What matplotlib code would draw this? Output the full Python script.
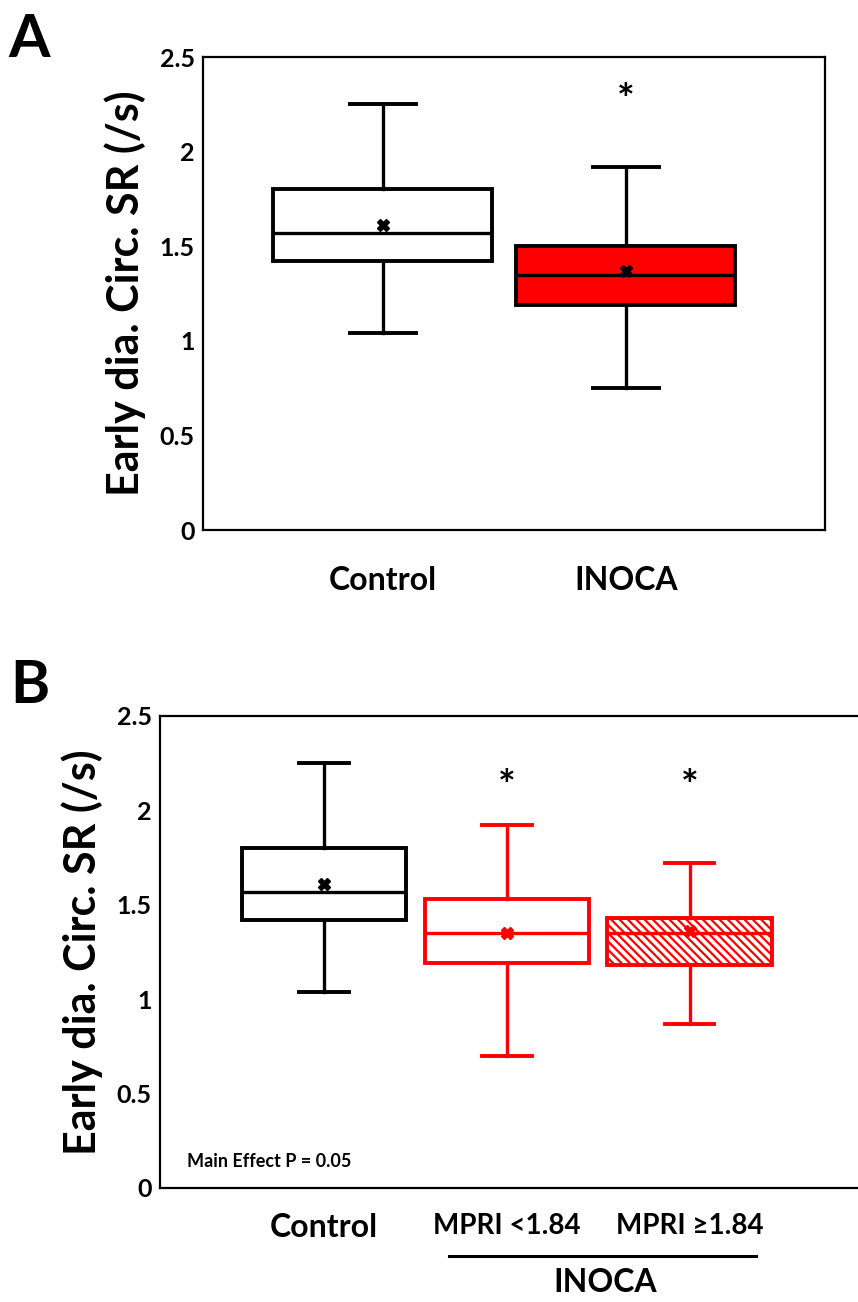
import numpy as np
import matplotlib
matplotlib.use("Agg")
import matplotlib.pyplot as plt

plt.rcParams['font.family'] = ['Lato', 'DejaVu Sans']
plt.rcParams['font.weight'] = 'bold'
plt.rcParams['hatch.linewidth'] = 1.6

# box statistics: whislo, q1, median, mean, q3, whishi
control = [1.04, 1.42, 1.57, 1.61, 1.80, 2.25]
inoca = [0.75, 1.19, 1.35, 1.37, 1.50, 1.92]
mpri_low = [0.70, 1.19, 1.35, 1.35, 1.53, 1.92]
mpri_high = [0.87, 1.18, 1.35, 1.36, 1.43, 1.72]

labels_a = ['Control', 'INOCA']
labels_b = ['Control', 'MPRI <1.84', 'MPRI \u22651.84']
star_a = 2.26
star_b = 2.12
yticks = [0, 0.5, 1, 1.5, 2, 2.5]
ytick_labels = ['0', '0.5', '1', '1.5', '2', '2.5']
red = '#ff0000'


def to_stats(v):
    return dict(whislo=v[0], q1=v[1], med=v[2], mean=v[3], q3=v[4], whishi=v[5], fliers=[])


def draw_box(ax, vals, pos, edge, face, hatch=None, width=0.9):
    b = ax.bxp([to_stats(vals)], positions=[pos], widths=width, capwidths=0.27,
               showmeans=True, patch_artist=True,
               boxprops=dict(facecolor=face, edgecolor=edge, linewidth=2.8),
               medianprops=dict(color=edge, linewidth=2.4),
               whiskerprops=dict(color=edge, linewidth=2.4),
               capprops=dict(color=edge, linewidth=2.8),
               meanprops=dict(marker='X', markerfacecolor=edge,
                              markeredgecolor=edge, markersize=8))
    if hatch:
        b['boxes'][0].set_hatch(hatch)
    return b


def style_axes(ax):
    ax.set_ylim(0, 2.5)
    ax.set_yticks(yticks)
    ax.set_yticklabels(ytick_labels, fontsize=18, fontweight='bold')
    ax.tick_params(axis='y', length=0, pad=6)
    ax.tick_params(axis='x', length=0)
    for s in ax.spines.values():
        s.set_linewidth(1.6)
    ax.set_ylabel('Early dia. Circ. SR (/s)', fontsize=31, fontweight='bold', labelpad=10)


fig = plt.figure(figsize=(8.58, 13.02), dpi=100)

# Panel A
axA = fig.add_axes([0.2366, 0.5929, 0.7249, 0.3633])
draw_box(axA, control, 1, 'black', 'white')
draw_box(axA, inoca, 2, 'black', red)
axA.set_xlim(0.26, 2.82)
style_axes(axA)
axA.set_xticks([1, 2])
axA.set_xticklabels(labels_a, fontsize=23, fontweight='bold')
axA.tick_params(axis='x', pad=26)
axA.text(2, star_a, '*', ha='center', va='center', fontsize=30, fontweight='bold')
fig.text(0.010, 0.969, 'A', fontsize=43, fontweight='bold', va='center')

# Panel B
axB = fig.add_axes([0.1865, 0.0876, 0.8135, 0.3625])
draw_box(axB, control, 1, 'black', 'white')
draw_box(axB, mpri_low, 2, red, 'white')
draw_box(axB, mpri_high, 3, red, 'white', hatch='\\\\\\\\')
axB.set_xlim(0.104, 3.92)
style_axes(axB)
axB.spines['right'].set_visible(False)
axB.set_xticks([1, 2, 3])
axB.set_xticklabels(labels_b, fontsize=20, fontweight='bold')
axB.get_xticklabels()[0].set_fontsize(23)
axB.tick_params(axis='x', pad=18)
for p in [2, 3]:
    axB.text(p, star_b, '*', ha='center', va='center', fontsize=30, fontweight='bold')
axB.text(0.039, 0.055, 'Main Effect P = 0.05', fontsize=13, fontweight='bold',
         transform=axB.transAxes, va='center')
fig.text(0.012, 0.473, 'B', fontsize=43, fontweight='bold', va='center')

# INOCA group bracket under panel B
fig.add_artist(plt.Line2D([449 / 858, 756 / 858], [1 - 1256 / 1302] * 2,
                          color='black', linewidth=2.2))
fig.text(605 / 858, 1 - 1283 / 1302, 'INOCA', fontsize=23, fontweight='bold',
         ha='center', va='center')

fig.savefig('out.png', dpi=100)
